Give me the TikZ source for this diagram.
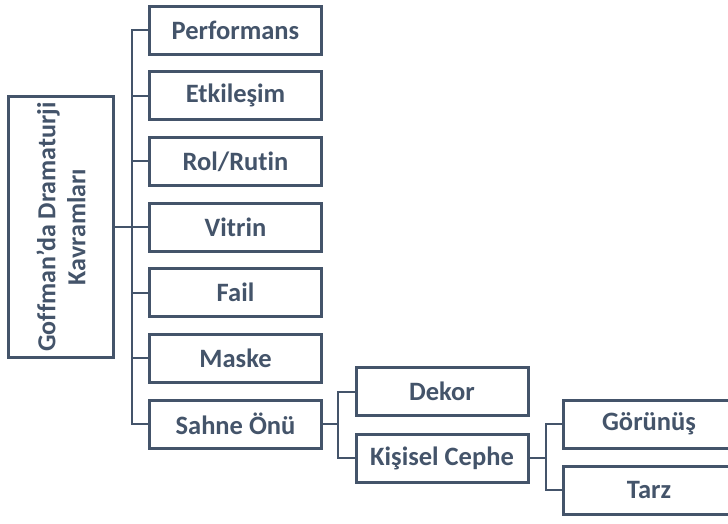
\documentclass[tikz,border=0pt]{standalone}
\usepackage{fontspec}
\setmainfont{Carlito}[Ligatures={NoCommon}]
\definecolor{slate}{HTML}{44546A}
\begin{document}
\begin{tikzpicture}[x=1pt,y=-1pt,
  box/.style={draw=slate, line width=3pt, fill=white, text=slate, font=\bfseries\fontsize{26.5}{30}\selectfont, minimum width=172pt, minimum height=48pt, inner sep=0pt},
  conn/.style={draw=slate, line width=2pt}]
\useasboundingbox (0,0) rectangle (728,523);
\clip (0,0) rectangle (728,523);
\node[box, minimum width=105pt, minimum height=261pt] (main) at (61,227) {};
\node[rotate=90, align=center, text=slate, font=\bfseries\fontsize{26}{30}\selectfont] (maintext) at (main.center) {Goffman'da Dramaturji\\Kavramları};
\node[box] (c1) at (235.5,30) {Performans};
\node[box] (c2) at (235.5,95.7) {Etkileşim};
\node[box] (c3) at (235.5,161.3) {Rol/Rutin};
\node[box] (c4) at (235.5,227) {Vitrin};
\node[box] (c5) at (235.5,292.7) {Fail};
\node[box] (c6) at (235.5,358.3) {Maske};
\node[box] (c7) at (235.5,424) {Sahne Önü};
\node[box] (d1) at (442,391.5) {Dekor};
\node[box] (d2) at (442,458) {Kişisel Cephe};
\node[box] (e1) at (649,424) {Görünüş};
\node[box] (e2) at (649,490) {Tarz};
\foreach \c in {c1,c2,c3,c4,c5,c6,c7}
  \draw[conn] (\c.west) -- ++(-16,0) |- (main.east);
\foreach \c in {d1,d2}
  \draw[conn] (\c.west) -- ++(-17,0) |- (c7.east);
\foreach \c in {e1,e2}
  \draw[conn] (\c.west) -- ++(-16,0) |- (d2.east);
\end{tikzpicture}
\end{document}
